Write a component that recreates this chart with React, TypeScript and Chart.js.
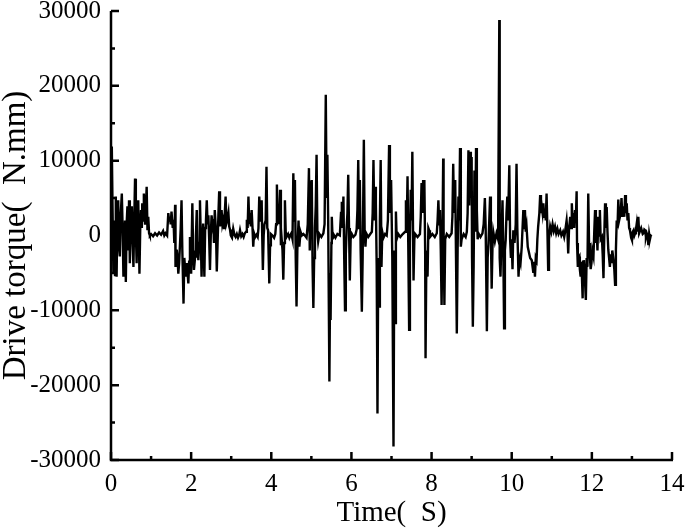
import { useEffect, useRef } from "react";
import { Chart, registerables } from "chart.js";

Chart.register(...registerables);

// Time (s)
const timeS: number[] = [
  0.00, 0.02, 0.04, 0.06, 0.08, 0.10, 0.12, 0.13, 0.14, 0.16, 0.18, 0.20, 0.22, 0.24, 0.27, 0.29, 0.31, 0.33, 0.35, 0.37,
  0.39, 0.41, 0.43, 0.45, 0.47, 0.49, 0.52, 0.54, 0.56, 0.58, 0.60, 0.62, 0.64, 0.66, 0.68, 0.71, 0.73, 0.75, 0.77, 0.78,
  0.80, 0.82, 0.85, 0.87, 0.89, 0.91, 0.93, 0.95, 0.97,
  1.00, 1.05, 1.10, 1.15, 1.20, 1.25, 1.30, 1.33, 1.36, 1.40,
  1.43, 1.45, 1.47, 1.49, 1.51, 1.54, 1.56, 1.58, 1.60, 1.61, 1.64, 1.66, 1.68, 1.70, 1.72, 1.74, 1.76, 1.78, 1.81, 1.83,
  1.85, 1.87, 1.89, 1.91, 1.93, 1.95, 1.97, 2.00, 2.03, 2.05, 2.07, 2.10, 2.12, 2.14, 2.16, 2.18, 2.20, 2.22, 2.24, 2.26,
  2.28, 2.30, 2.33,
  2.35, 2.37, 2.39, 2.41, 2.43, 2.45, 2.47, 2.49, 2.51, 2.53, 2.55, 2.57, 2.59, 2.62, 2.64, 2.66, 2.68, 2.70, 2.72, 2.74,
  2.76, 2.78, 2.80, 2.82, 2.84, 2.86, 2.88, 2.90, 2.93, 2.95, 2.97, 2.99, 3.02, 3.05, 3.08, 3.11, 3.14, 3.17, 3.20, 3.22,
  3.25, 3.28, 3.31, 3.34, 3.37, 3.39, 3.41, 3.43, 3.45, 3.47, 3.49, 3.51, 3.53, 3.55, 3.57, 3.60, 3.63, 3.66, 3.68, 3.70,
  3.72, 3.74, 3.76, 3.77, 3.79, 3.81, 3.83, 3.86, 3.88, 3.90, 3.92, 3.95, 3.97, 3.99, 4.03, 4.07, 4.10, 4.12, 4.14, 4.16,
  4.18, 4.20, 4.22, 4.24, 4.26, 4.28, 4.30, 4.32, 4.34, 4.36, 4.38, 4.42, 4.45,
  4.47, 4.50, 4.53, 4.55, 4.57, 4.59, 4.61, 4.63, 4.65, 4.68, 4.70, 4.73, 4.76, 4.80, 4.84, 4.88, 4.91, 4.94, 4.96, 4.98,
  5.01, 5.03, 5.05, 5.07, 5.09, 5.11, 5.13, 5.15, 5.17, 5.20, 5.25, 5.30, 5.33, 5.36, 5.38, 5.40, 5.42, 5.45, 5.47, 5.48,
  5.50, 5.51, 5.53, 5.55, 5.60, 5.65, 5.71, 5.74, 5.76, 5.78, 5.80, 5.82, 5.84, 5.86, 5.88, 5.90, 5.92, 5.94, 5.96, 5.98,
  6.01, 6.05, 6.10, 6.13, 6.15, 6.17, 6.19, 6.21, 6.23, 6.26, 6.28, 6.31, 6.33, 6.35, 6.37, 6.42, 6.47, 6.51, 6.53, 6.55,
  6.57, 6.59, 6.61, 6.63, 6.65, 6.67, 6.70, 6.71, 6.73, 6.75, 6.77, 6.80, 6.84, 6.88,
  6.91, 6.94, 6.96, 6.99, 7.02, 7.05, 7.07, 7.09, 7.11, 7.13, 7.17, 7.22, 7.28, 7.34, 7.36, 7.38, 7.40, 7.42, 7.44, 7.46,
  7.48, 7.50, 7.52, 7.54, 7.55, 7.57, 7.59, 7.65, 7.71, 7.73, 7.75, 7.77, 7.79, 7.80, 7.82, 7.84, 7.85, 7.87, 7.90, 7.92,
  7.94, 7.96, 8.02, 8.08, 8.13, 8.15, 8.17, 8.19, 8.21, 8.23, 8.25, 8.27, 8.29, 8.30, 8.32, 8.34, 8.38, 8.44, 8.50, 8.52,
  8.54, 8.56, 8.59, 8.61, 8.63, 8.65, 8.67, 8.69, 8.71, 8.73, 8.75, 8.80, 8.85, 8.88, 8.90, 8.92, 8.94, 8.96, 8.98, 9.00,
  9.01, 9.03, 9.05, 9.07, 9.09,
  9.11, 9.13, 9.15, 9.17, 9.22, 9.27, 9.30, 9.33, 9.35, 9.38, 9.40, 9.42, 9.44, 9.46, 9.48, 9.50, 9.52, 9.54, 9.58, 9.62,
  9.66, 9.69, 9.70, 9.72, 9.74, 9.77, 9.79, 9.81, 9.83, 9.85, 9.87, 9.89, 9.91, 9.94, 9.96, 9.98, 10.00, 10.02, 10.04, 10.07,
  10.10, 10.12, 10.14, 10.17, 10.19, 10.22, 10.25, 10.29, 10.31, 10.33, 10.35, 10.37, 10.40, 10.42, 10.46, 10.50, 10.54, 10.56, 10.58, 10.60,
  10.62, 10.64, 10.66, 10.69, 10.71, 10.73, 10.75, 10.77, 10.79, 10.81, 10.83, 10.85, 10.87, 10.89, 10.91, 10.93, 10.96, 10.99, 11.02, 11.05,
  11.08, 11.11, 11.14, 11.17, 11.21, 11.24,
  11.28, 11.31, 11.33, 11.37, 11.39, 11.41, 11.43, 11.46, 11.48, 11.50, 11.52, 11.54, 11.56, 11.58, 11.60, 11.62, 11.63, 11.65, 11.67, 11.69,
  11.70, 11.72, 11.74, 11.77, 11.78, 11.80, 11.82, 11.85, 11.87, 11.89, 11.91, 11.93, 11.95, 11.97, 11.99, 12.01, 12.04, 12.06, 12.08, 12.10,
  12.12, 12.14, 12.16, 12.18, 12.20, 12.22, 12.25, 12.27, 12.29, 12.31, 12.33, 12.35, 12.37, 12.39, 12.41, 12.43, 12.45, 12.47, 12.49, 12.51,
  12.54, 12.56, 12.58, 12.60, 12.62, 12.64, 12.66, 12.68, 12.70, 12.72, 12.74, 12.76, 12.79, 12.81, 12.83, 12.85, 12.87, 12.89, 12.91, 12.93,
  12.95, 12.98, 13.00, 13.02, 13.04, 13.06, 13.08, 13.10, 13.12, 13.14, 13.16, 13.18, 13.20, 13.23, 13.25, 13.27, 13.29, 13.31, 13.33, 13.35,
  13.37, 13.39, 13.41, 13.43, 13.45, 13.47, 13.49,
];

// Drive torque (N.mm)
const torqueNmm: number[] = [
  0, 11900, 3000, -5100, 2000, -5300, 5200, -2000, -5500, 3000, 4700, -1500, -2800, 2500, 5600, 1000, -5500, -600, 2000, -6200,
  1500, 3900, -2000, 4700, -3700, 1500, 3900, -1000, -4200, 2000, 7600, 500, -3700, 2500, 4700, -5100, 1000, 3400, 1000, 4300,
  2000, 5600, 1600, 3500, 6500, 700, 2500, 300, 0,
  200, -100, 300, 0, 400, 100, 600, 0, 300, 0,
  3000, 2000, 2500, 1500, 3200, 1000, 2100, -1000, 4100, -4200, -1900, -3000, -5100, -3700, -3700, 1000, 4700, -2000, -9100, -3000,
  -4600, -5500, -3700, -5000, -6400, -3500, -200, -5100, 4300, -2000, -4600, -2800, 0, 3400, -1500, -3300, -1000, 4700, 0, -5500,
  -1000, 1600, -5500,
  1000, 2000, 4700, 1500, 2700, -500, -4600, 0, 2700, 1500, 2200, -1000, 3400, 500, -4800, -1000, 2700, 5900, 1200, 2500,
  3400, 1500, 2000, 1000, 3000, 5200, 1600, 2000, 3000, 1200, 800, 0, -300, 900, 100, -200, 200, -300, 100, 700,
  -100, 200, -200, 300, 500, 2100, 1000, 5200, 1500, 3000, 1200, 3400, 1200, -1500, 300, -200, 100, -200, 1000, 5200,
  2000, 2900, 4700, 1000, -4600, 0, 1500, 2000, 9200, 1000, 700, -6400, -1300, 200, 0, -300, 200, 1500, 6800, 2000,
  3000, 1500, 6100, -1300, -500, -2000, -5900, -1000, 4700, 500, -200, 200, -300,
  0, 300, -500, 8300, 2000, 7400, -3000, -9500, -2000, 2000, -1500, 500, 0, 200, 0, -300, 1500, 9000, -2000, 6500,
  7400, -4000, -9700, -3000, 1000, 4000, 10800, 500, -800, 200, -200, 300, 1500, 18800, 5000, 10800, 2000, -19500, -5000, -11300,
  -1000, 2500, -500, 200, -300, 200, 0, 3000, 4500, 1000, 5200, -3000, -10000, -2500, 1000, 3000, 8100, 1000, -6000, -500,
  200, -200, 100, 800, 3500, 10100, 1000, 7400, -2000, -10200, -3000, 12800, 500, -1500, 300, -200, 200, 500, 3000, 10100,
  2000, 6500, 4300, -4000, -23800, -3000, -9500, 2000, 10100, -4200, 500, -300, 200, 0,
  2000, 12100, 3000, 7400, -3000, -28200, -2000, -11700, 3200, -500, 200, -200, 200, 500, 4700, 1000, 7900, -2000, -12600, -1000,
  6100, 2000, 11200, -1000, -6000, -500, 200, -200, 200, 2500, 7000, 3000, 7400, 4000, 7400, -2000, -16400, -3000, -5500, 1000,
  700, -200, 200, -200, 300, 2000, 4700, 1500, 3400, -2000, -9300, -1000, 10300, 1000, -9300, -500, 200, -200, 300, 2500,
  9600, 3000, 7400, -3000, -13100, -2000, 5200, 2000, 11700, -1500, -500, 200, -200, 500, 3000, 11400, 4000, 11200, 5000, 10500,
  -3000, -12200, -4000, 8700, 500,
  11700, 3400, -500, 300, -200, 300, 1500, 5000, 1000, -12800, -3000, -1000, 2000, 5200, 0, -7100, -1500, 500, -800, 300,
  -500, 28800, -3000, -5500, -1000, 4700, -2000, -12400, -2000, -600, 3000, 5200, 2000, 9400, -500, -3000, -1000, -4500, 700, -1000,
  1500, 9600, 1000, -5500, -3000, -3700, -1500, 3400, 1000, 3400, 500, 1200, -1500, -2000, -3000, -3300, -5000, -3500, -5500, -3000,
  -3300, -500, 1200, 3000, 5400, 3000, 3900, 3000, 4300, 2500, 3400, 2000, 5600, 1000, -4600, -500, 1200, 500, 1500, 600,
  1200, 300, 900, 200, 700, 0,
  500, -200, 400, 2000, 500, -2400, 800, 2500, 1000, 4300, 1500, 3000, 1000, 3400, 2000, 5900, -1000, -4200, -3000, -2800,
  -4500, -5500, -3500, -8400, -3500, -3300, -5000, -8600, -3000, -4200, 5600, -1000, -2800, -4500, -3700, -2000, -2800, 500, 3400, -1000,
  700, -2000, 2500, 0, 3400, -500, -200, -2500, -5700, 0, 4300, 1000, 3800, 500, -1900, -3000, -4200, -2500, -3700, -2000,
  -3300, -4500, -6600, -2000, 2000, 1000, 4800, 2000, 2000, 3000, 5000, 2500, 3900, 2500, 5400, 3000, 4300, 2000, 3000, 1000,
  700, -300, -600, 500, 700, 0, 300, 800, 1600, 500, 2500, 300, 300, 1000, 1000, 200, 300, 800, 700, -200,
  300, 0, -1300, 200, -500, 0, 100,
];

const xMajorTicks = [0, 2, 4, 6, 8, 10, 12, 14];
const xMinorTicks = [1, 3, 5, 7, 9, 11, 13];
const yMajorTicks = [-30000, -20000, -10000, 0, 10000, 20000, 30000];
const yMinorTicks = [-25000, -15000, -5000, 5000, 15000, 25000];

const xTitle = "Time(  S)";
const yTitle = "Drive torque(  N.mm)";

const FONT = "'Liberation Serif', 'Times New Roman', serif";

const axesPlugin = {
  id: "customAxes",
  afterDraw(chart: any) {
    const { ctx, chartArea: a, scales } = chart;
    const x = scales.x;
    const y = scales.y;
    ctx.save();
    ctx.strokeStyle = "#000";
    ctx.lineWidth = 2.5;
    ctx.lineCap = "butt";
    ctx.beginPath();
    ctx.moveTo(a.left, a.top);
    ctx.lineTo(a.left, a.bottom);
    ctx.lineTo(a.right + 1, a.bottom);
    ctx.stroke();
    ctx.beginPath();
    for (const v of xMajorTicks) {
      const px = x.getPixelForValue(v);
      ctx.moveTo(px, a.bottom);
      ctx.lineTo(px, a.bottom - 8);
    }
    for (const v of xMinorTicks) {
      const px = x.getPixelForValue(v);
      ctx.moveTo(px, a.bottom);
      ctx.lineTo(px, a.bottom - 4);
    }
    for (const v of yMajorTicks) {
      const py = y.getPixelForValue(v);
      ctx.moveTo(a.left, py);
      ctx.lineTo(a.left + 8, py);
    }
    for (const v of yMinorTicks) {
      const py = y.getPixelForValue(v);
      ctx.moveTo(a.left, py);
      ctx.lineTo(a.left + 4, py);
    }
    ctx.stroke();
    ctx.restore();
  },
};

export default function App() {
  const canvasRef = useRef<HTMLCanvasElement | null>(null);

  useEffect(() => {
    document.body.style.margin = "0";
    const canvas = canvasRef.current;
    if (!canvas) return;
    const points = timeS.map((t, i) => ({ x: t, y: torqueNmm[i] }));
    const chart = new Chart(canvas, {
      type: "line",
      data: {
        datasets: [
          {
            data: points,
            borderColor: "#000",
            borderWidth: 2.4,
            pointRadius: 0,
            tension: 0,
            fill: false,
          },
        ],
      },
      plugins: [axesPlugin],
      options: {
        responsive: false,
        animation: false,
        events: [],
        layout: { padding: { top: 11, right: 13, left: 0, bottom: 0 } },
        plugins: {
          legend: { display: false },
          tooltip: { enabled: false },
        },
        scales: {
          x: {
            type: "linear",
            min: 0,
            max: 14,
            grid: { display: false, drawTicks: false },
            border: { display: false },
            afterBuildTicks: (s: any) => {
              s.ticks = xMajorTicks.map((v) => ({ value: v }));
            },
            ticks: {
              color: "#000",
              font: { family: FONT, size: 25 },
              padding: 9,
              maxRotation: 0,
              autoSkip: false,
              callback: (v: any) => String(v),
            },
            title: {
              display: true,
              text: xTitle,
              color: "#000",
              font: { family: FONT, size: 29, lineHeight: 1.05 },
              padding: { top: 0, bottom: 0 },
            },
            afterFit: (s: any) => {
              s.height = 69;
              s.paddingLeft = 0;
              s.paddingRight = 0;
            },
          },
          y: {
            type: "linear",
            min: -30000,
            max: 30000,
            grid: { display: false, drawTicks: false },
            border: { display: false },
            afterBuildTicks: (s: any) => {
              s.ticks = yMajorTicks.map((v) => ({ value: v }));
            },
            ticks: {
              color: "#000",
              font: { family: FONT, size: 25 },
              padding: 10,
              autoSkip: false,
              callback: (v: any) => String(v),
            },
            title: {
              display: true,
              text: yTitle,
              color: "#000",
              font: { family: FONT, size: 33, lineHeight: 1 },
              padding: { top: 0, bottom: 0 },
            },
            afterFit: (s: any) => {
              s.width = 111;
              s.paddingTop = 0;
              s.paddingBottom = 0;
            },
          },
        },
      },
    });
    return () => chart.destroy();
  }, []);

  return (
    <div style={{ width: 685, height: 529 }}>
      <canvas ref={canvasRef} width={685} height={529} style={{ display: "block" }} />
    </div>
  );
}
